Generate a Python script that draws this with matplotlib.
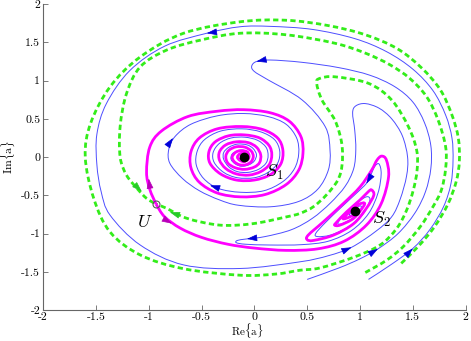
import numpy as np
import matplotlib
matplotlib.use("Agg")
import matplotlib.pyplot as plt
from matplotlib.path import Path
from matplotlib.patches import PathPatch, FancyArrowPatch

plt.rcParams['mathtext.fontset'] = 'cm'
plt.rcParams['axes.unicode_minus'] = False

# ---------------- data ----------------
TICKS = [-2, -1.5, -1, -0.5, 0, 0.5, 1, 1.5, 2]
TICK_LABELS = ['-2', '-1.5', '-1', '-0.5', '0', '0.5', '1', '1.5', '2']

S1 = (-0.10, 0.0)
S2 = (0.95, -0.705)
U = (-0.93, -0.615)

# stable manifold of U, branch A (green dashed)
GREEN_A = [(1.05, -1.51), (1.25, -1.35), (1.41, -1.17), (1.57, -0.91), (1.69, -0.65),
           (1.77, -0.43), (1.81, -0.15), (1.81, 0.135), (1.74, 0.48), (1.63, 0.79),
           (1.47, 1.03), (1.28, 1.21), (1.05, 1.36), (0.76, 1.49), (0.30, 1.60),
           (-0.135, 1.62), (-0.51, 1.53), (-0.83, 1.40), (-1.08, 1.18), (-1.21, 0.83),
           (-1.27, 0.40), (-1.27, 0.0), (-1.21, -0.235), (-1.11, -0.41), (-1.02, -0.54),
           (-0.93, -0.615)]

# stable manifold of U, branch B (green dashed)
GREEN_B = [(1.39, -1.39), (1.55, -1.17), (1.70, -0.92), (1.83, -0.62), (1.91, -0.32),
           (1.94, -0.05), (1.93, 0.25), (1.87, 0.55), (1.76, 0.88), (1.58, 1.17),
           (1.35, 1.42), (1.05, 1.60), (0.70, 1.72), (0.30, 1.79), (-0.135, 1.77),
           (-0.67, 1.62), (-1.08, 1.31), (-1.365, 0.92), (-1.55, 0.44), (-1.60, 0.0),
           (-1.52, -0.54), (-1.365, -0.98), (-1.08, -1.28), (-0.67, -1.46), (-0.135, -1.545),
           (0.20, -1.53), (0.43, -1.48), (0.62, -1.45), (0.94, -1.31), (1.19, -1.15),
           (1.347, -0.933), (1.441, -0.694), (1.504, -0.432), (1.54, -0.17), (1.536, 0.09),
           (1.457, 0.40), (1.30, 0.746), (1.08, 0.965), (0.763, 1.05), (0.62, 1.03),
           (0.59, 0.965), (0.64, 0.746), (0.763, 0.48), (0.827, 0.18), (0.83, -0.10),
           (0.79, -0.30), (0.685, -0.49), (0.558, -0.65), (0.43, -0.737), (0.31, -0.78),
           (-0.01, -0.87), (-0.325, -0.89), (-0.64, -0.80), (-0.83, -0.67), (-0.93, -0.615)]

# unstable manifold of U towards S1 (magenta)
MAGENTA_S1 = [(-0.93, -0.615), (-0.99, -0.42), (-1.02, -0.2), (-0.99, 0.13), (-0.88, 0.34),
              (-0.63, 0.53), (-0.35, 0.60), (-0.10, 0.62), (0.15, 0.58), (0.33, 0.47),
              (0.44, 0.27), (0.46, 0.05), (0.42, -0.17), (0.30, -0.36), (0.10, -0.49),
              (-0.13, -0.52), (-0.35, -0.47), (-0.52, -0.33), (-0.60, -0.14), (-0.60, 0.07),
              (-0.52, 0.25), (-0.35, 0.37), (-0.12, 0.40), (0.08, 0.36), (0.22, 0.25),
              (0.27, 0.09), (0.25, -0.09), (0.15, -0.23), (0.0, -0.30), (-0.17, -0.30),
              (-0.32, -0.22), (-0.42, -0.08), (-0.43, 0.07), (-0.37, 0.20), (-0.24, 0.28),
              (-0.09, 0.29), (0.05, 0.25), (0.14, 0.15), (0.165, 0.03), (0.14, -0.10),
              (0.06, -0.19), (-0.05, -0.235), (-0.17, -0.22), (-0.27, -0.15), (-0.33, -0.04),
              (-0.33, 0.07), (-0.27, 0.16), (-0.17, 0.20), (-0.06, 0.19), (0.02, 0.13),
              (0.06, 0.03), (0.05, -0.07), (0.0, -0.13), (-0.09, -0.16), (-0.18, -0.14),
              (-0.25, -0.08), (-0.27, 0.01), (-0.24, 0.09), (-0.17, 0.135), (-0.09, 0.13),
              (-0.03, 0.08), (-0.01, 0.01), (-0.03, -0.06), (-0.08, -0.10), (-0.14, -0.10),
              (-0.19, -0.06), (-0.21, 0.0), (-0.18, 0.06), (-0.13, 0.085), (-0.07, 0.07),
              (-0.05, 0.02), (-0.06, -0.03), (-0.10, -0.06), (-0.14, -0.04), (-0.16, 0.0),
              (-0.14, 0.04), (-0.10, 0.05), (-0.08, 0.02)]

# unstable manifold of U towards S2 (magenta)
MAGENTA_S2 = [(-0.93, -0.615), (-0.85, -0.78), (-0.70, -0.93), (-0.50, -1.05), (-0.25, -1.14),
              (0.0, -1.19), (0.30, -1.22), (0.60, -1.20), (0.85, -1.10), (1.06, -0.89),
              (1.20, -0.61), (1.27, -0.26), (1.25, -0.04), (1.205, 0.013), (1.16, -0.04),
              (1.11, -0.17), (1.0, -0.39), (0.84, -0.61), (0.65, -0.85), (0.51, -1.02),
              (0.50, -1.08), (0.56, -1.09), (0.75, -1.02), (0.94, -0.87), (1.06, -0.67),
              (1.13, -0.50), (1.11, -0.43), (1.08, -0.45), (1.0, -0.56), (0.87, -0.72),
              (0.78, -0.85), (0.76, -0.89), (0.81, -0.89), (0.94, -0.80), (1.03, -0.65),
              (1.04, -0.60), (0.99, -0.62), (0.905, -0.716), (0.84, -0.80), (0.87, -0.80),
              (0.95, -0.75), (0.97, -0.71), (0.95, -0.705)]

# blue trajectory A: outer loop, hook, hairpin, spiral into S2
BLUE_A = [(1.08, -1.60), (1.30, -1.40), (1.50, -1.195), (1.66, -0.95), (1.79, -0.65),
          (1.86, -0.35), (1.88, -0.05), (1.87, 0.25), (1.81, 0.55), (1.69, 0.87),
          (1.50, 1.15), (1.25, 1.38), (0.95, 1.55), (0.55, 1.67), (0.15, 1.71),
          (-0.135, 1.705), (-0.45, 1.62), (-0.85, 1.45), (-1.18, 1.13), (-1.40, 0.70),
          (-1.49, 0.30), (-1.49, -0.10), (-1.45, -0.45), (-1.365, -0.76), (-1.08, -1.15),
          (-0.67, -1.41), (-0.135, -1.457), (0.43, -1.37), (0.70, -1.29), (0.92, -1.18),
          (1.15, -0.97), (1.30, -0.78), (1.38, -0.55), (1.44, -0.25), (1.45, 0.0),
          (1.40, 0.28), (1.30, 0.50), (1.18, 0.64), (1.05, 0.70), (0.96, 0.67),
          (0.93, 0.58), (0.95, 0.35), (0.96, 0.10), (0.94, -0.15), (0.86, -0.38),
          (0.72, -0.60), (0.55, -0.80), (0.35, -0.95), (0.10, -1.04), (-0.07, -1.07),
          (-0.16, -1.09), (-0.17, -1.12), (-0.08, -1.14), (0.15, -1.15), (0.45, -1.145),
          (0.70, -1.10), (0.92, -0.96), (1.08, -0.74), (1.17, -0.47), (1.20, -0.22),
          (1.18, -0.09), (1.14, -0.12), (1.10, -0.24), (1.06, -0.345), (0.96, -0.48),
          (0.82, -0.66), (0.67, -0.86), (0.58, -1.0), (0.60, -1.04), (0.72, -1.02),
          (0.88, -0.92), (1.02, -0.76), (1.09, -0.58), (1.08, -0.52), (1.03, -0.54),
          (0.93, -0.65), (0.82, -0.80), (0.79, -0.87), (0.83, -0.87), (0.93, -0.80),
          (1.0, -0.70), (1.01, -0.64), (0.97, -0.66), (0.90, -0.75), (0.92, -0.76),
          (0.96, -0.72)]

# blue trajectory B: U-turn at the top, spiral into S1
BLUE_B = [(0.50, -1.60), (0.80, -1.45), (1.00, -1.33), (1.17, -1.20), (1.36, -1.00),
          (1.52, -0.73), (1.62, -0.45), (1.67, -0.15), (1.67, 0.15), (1.61, 0.45),
          (1.50, 0.72), (1.33, 0.92), (1.095, 1.07), (0.80, 1.17), (0.45, 1.24),
          (0.15, 1.27), (0.02, 1.25), (-0.025, 1.19), (0.0, 1.12), (0.13, 1.01),
          (0.45, 0.75), (0.67, 0.40), (0.716, 0.09), (0.70, -0.17), (0.60, -0.42),
          (0.42, -0.58), (0.15, -0.65), (-0.15, -0.63), (-0.33, -0.56), (-0.52, -0.44),
          (-0.68, -0.28), (-0.80, -0.08), (-0.81, 0.10), (-0.75, 0.27), (-0.60, 0.43),
          (-0.35, 0.54), (-0.10, 0.57), (0.13, 0.53), (0.30, 0.43), (0.40, 0.25),
          (0.42, 0.05), (0.38, -0.15), (0.27, -0.32), (0.09, -0.44), (-0.13, -0.46),
          (-0.34, -0.41), (-0.48, -0.28), (-0.55, -0.10), (-0.54, 0.08), (-0.47, 0.23),
          (-0.32, 0.34), (-0.12, 0.37), (0.06, 0.33), (0.19, 0.23), (0.24, 0.08),
          (0.22, -0.08), (0.13, -0.20), (0.0, -0.27), (-0.16, -0.27), (-0.29, -0.20),
          (-0.38, -0.07), (-0.39, 0.06), (-0.33, 0.18), (-0.22, 0.25), (-0.09, 0.26),
          (0.03, 0.22), (0.11, 0.13), (0.13, 0.02), (0.11, -0.08), (0.04, -0.16),
          (-0.06, -0.20), (-0.16, -0.19), (-0.24, -0.13), (-0.29, -0.03), (-0.29, 0.06),
          (-0.24, 0.13), (-0.16, 0.17), (-0.07, 0.16), (-0.01, 0.11), (0.02, 0.03),
          (0.0, -0.05), (-0.05, -0.10), (-0.12, -0.12), (-0.18, -0.09), (-0.22, -0.03),
          (-0.21, 0.04), (-0.16, 0.08), (-0.10, 0.09), (-0.06, 0.05), (-0.05, 0.0),
          (-0.08, -0.04), (-0.12, -0.05), (-0.14, -0.01)]

# arrow heads: position and direction
BLUE_ARROW_X = [-0.45, 0.02, -0.77, -0.42, -0.07, 1.06, 0.92, 1.17, 1.50]
BLUE_ARROW_Y = [1.62, 1.25, 0.25, -0.37, -1.07, -0.345, -1.18, -1.20, -1.195]
BLUE_ARROW_DX = [-1.0, -1.0, 0.5, -1.0, -1.0, -0.45, 1.0, 1.0, 0.8]
BLUE_ARROW_DY = [-0.2, -0.3, 1.0, 0.45, -0.15, -1.0, 0.6, 0.85, 1.1]
MAG_ARROW_X = [-1.0, -0.78]
MAG_ARROW_Y = [-0.28, -0.87]
MAG_ARROW_DX = [-0.1, 1.0]
MAG_ARROW_DY = [1.0, -0.8]
GRN_ARROW_X = [-1.065, -0.80]
GRN_ARROW_Y = [-0.45, -0.72]
GRN_ARROW_DX = [0.6, -1.0]
GRN_ARROW_DY = [-0.8, 0.45]

# ---------------- drawing ----------------
def smooth_path(pts):
    P = np.asarray(pts, float)
    n = len(P)
    verts = [P[0]]
    codes = [Path.MOVETO]
    for i in range(n - 1):
        p0 = P[i - 1] if i > 0 else P[i]
        p1, p2 = P[i], P[i + 1]
        p3 = P[i + 2] if i + 2 < n else P[i + 1]
        verts += [p1 + (p2 - p0) / 6.0, p2 - (p3 - p1) / 6.0, p2]
        codes += [Path.CURVE4] * 3
    return Path(verts, codes)


fig = plt.figure(figsize=(4.71, 3.41), dpi=100)
ax = fig.add_axes([43 / 471, 1 - 310 / 341, (465.7 - 43) / 471, (310 - 4.2) / 341])
ax.set_xlim(-2, 2)
ax.set_ylim(-2, 2)

BLUE = (0.3, 0.3, 1.0)
GREEN = (0.2, 0.93, 0.1)
MAG = (1.0, 0.0, 1.0)

for pts in (BLUE_A, BLUE_B):
    ax.add_patch(PathPatch(smooth_path(pts), fill=False, edgecolor=BLUE, lw=0.7, zorder=2))
for pts in (GREEN_A, GREEN_B):
    ax.add_patch(PathPatch(smooth_path(pts), fill=False, edgecolor=GREEN, lw=2.0,
                           linestyle=(0, (1.9, 1.2)), zorder=3))
for pts in (MAGENTA_S1, MAGENTA_S2):
    ax.add_patch(PathPatch(smooth_path(pts), fill=False, edgecolor=MAG, lw=2.0, zorder=4))


def arrows(xs, ys, dxs, dys, color):
    for x, y, dx, dy in zip(xs, ys, dxs, dys):
        n = np.hypot(dx, dy)
        tail = (x - 0.05 * dx / n, y - 0.05 * dy / n)
        ax.add_patch(FancyArrowPatch(tail, (x, y), arrowstyle='-|>,head_length=0.9,head_width=0.3',
                                     mutation_scale=7, color=color, lw=0.5, zorder=6,
                                     shrinkA=0, shrinkB=0))


arrows(BLUE_ARROW_X, BLUE_ARROW_Y, BLUE_ARROW_DX, BLUE_ARROW_DY, (0.0, 0.0, 0.85))
arrows(MAG_ARROW_X, MAG_ARROW_Y, MAG_ARROW_DX, MAG_ARROW_DY, (0.72, 0.0, 0.72))
arrows(GRN_ARROW_X, GRN_ARROW_Y, GRN_ARROW_DX, GRN_ARROW_DY, (0.15, 0.8, 0.15))

ax.plot([S1[0], S2[0]], [S1[1], S2[1]], 'o', ls='none', color='black', ms=6, zorder=7)
ax.plot([U[0]], [U[1]], 'o', ms=5, mfc='none', mec=(0.35, 0.35, 0.35), mew=0.8, zorder=7)

ax.text(0.10, -0.20, r'$S_1$', fontsize=13, ha='left', va='center', zorder=8)
ax.text(1.11, -0.82, r'$S_2$', fontsize=13, ha='left', va='center', zorder=8)
ax.text(-1.04, -0.85, r'$U$', fontsize=13, ha='center', va='center', zorder=8)

ax.set_xticks(TICKS)
ax.set_yticks(TICKS)
ax.set_xticklabels(TICK_LABELS, fontfamily='cmr10', fontsize=8.5)
ax.set_yticklabels(TICK_LABELS, fontfamily='cmr10', fontsize=8.5)
ax.tick_params(direction='in', length=3.5, width=0.6, color=(0.4, 0.4, 0.4), pad=2)
ax.tick_params(axis='x', pad=1.5)
for s in ('top', 'right'):
    ax.spines[s].set_visible(False)
for s in ('left', 'bottom'):
    ax.spines[s].set_color((0.4, 0.4, 0.4))
    ax.spines[s].set_linewidth(0.8)

fig.text(247 / 471, 0.5 / 341, r'$\mathrm{Re}\{\mathrm{a}\}$', fontsize=8,
         ha='center', va='bottom')
fig.text(8 / 471, 1 - 157 / 341, r'$\mathrm{Im}\{\mathrm{a}\}$', fontsize=8.5,
         ha='center', va='center', rotation=90)

fig.savefig('out.png', dpi=100)
